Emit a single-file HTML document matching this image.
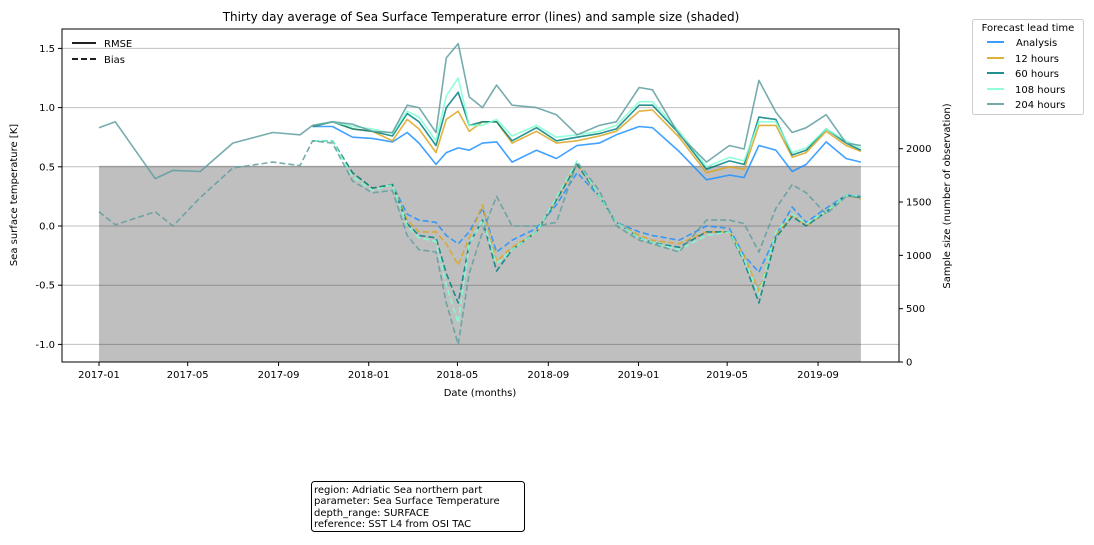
<!DOCTYPE html>
<html><head><meta charset="utf-8"><style>
body{margin:0;background:#fff;width:1094px;height:540px;overflow:hidden;font-family:"Liberation Sans","DejaVu Sans",sans-serif}
svg text{font-family:"DejaVu Sans","Liberation Sans",sans-serif}
</style></head><body>
<svg id="chart" width="1094" height="540" xmlns="http://www.w3.org/2000/svg"></svg>
<script>
const gridDates=["2017-10-17","2017-11-13","2017-12-10","2018-01-06","2018-02-02","2018-02-22","2018-03-10","2018-04-02","2018-04-16","2018-05-02","2018-05-17","2018-06-04","2018-06-23","2018-07-14","2018-08-16","2018-09-12","2018-10-10","2018-11-09","2018-12-02","2019-01-02","2019-01-20","2019-02-25","2019-04-03","2019-05-04","2019-05-24","2019-06-13","2019-07-06","2019-07-28","2019-08-16","2019-09-12","2019-10-09","2019-10-29"];
const preDates=["2017-01-01","2017-01-23","2017-03-18","2017-04-11","2017-05-18","2017-07-01","2017-08-24","2017-09-30"];
const rmseAnalysis=[0.84,0.84,0.75,0.74,0.71,0.79,0.70,0.52,0.62,0.66,0.64,0.70,0.71,0.54,0.64,0.57,0.68,0.70,0.77,0.84,0.83,0.63,0.39,0.43,0.41,0.68,0.64,0.46,0.52,0.71,0.57,0.54];
const rmse12=[0.84,0.88,0.82,0.80,0.72,0.90,0.82,0.62,0.90,0.97,0.80,0.88,0.88,0.70,0.80,0.70,0.72,0.76,0.80,0.97,0.98,0.75,0.45,0.50,0.48,0.85,0.85,0.58,0.62,0.80,0.68,0.63];
const rmse60=[0.84,0.88,0.82,0.80,0.76,0.95,0.88,0.68,1.00,1.13,0.85,0.88,0.88,0.72,0.83,0.72,0.75,0.78,0.82,1.02,1.02,0.78,0.48,0.55,0.52,0.92,0.90,0.60,0.64,0.82,0.70,0.64];
const rmse108=[0.85,0.88,0.84,0.82,0.78,0.97,0.92,0.72,1.10,1.25,0.85,0.85,0.90,0.76,0.85,0.75,0.77,0.80,0.85,1.05,1.05,0.80,0.50,0.58,0.55,0.88,0.88,0.62,0.66,0.82,0.72,0.66];
const rmse204Pre=[0.83,0.88,0.40,0.47,0.46,0.70,0.79,0.77];
const rmse204=[0.85,0.88,0.86,0.80,0.79,1.02,1.00,0.79,1.42,1.54,1.09,1.00,1.19,1.02,1.00,0.94,0.77,0.85,0.88,1.17,1.15,0.77,0.54,0.68,0.65,1.23,0.96,0.79,0.83,0.94,0.70,0.68];
const biasAnalysis=[0.72,0.72,0.45,0.32,0.35,0.10,0.05,0.03,-0.08,-0.15,-0.05,0.15,-0.22,-0.12,-0.02,0.18,0.45,0.25,0.03,-0.05,-0.08,-0.12,0.0,-0.02,-0.25,-0.39,-0.08,0.16,0.03,0.15,0.26,0.25];
const bias12=[0.72,0.72,0.45,0.32,0.35,0.05,-0.05,-0.05,-0.15,-0.33,-0.10,0.18,-0.30,-0.18,-0.05,0.22,0.52,0.25,0.03,-0.08,-0.12,-0.15,-0.05,-0.05,-0.25,-0.55,-0.08,0.10,0.0,0.12,0.26,0.23];
const bias60=[0.72,0.72,0.45,0.32,0.35,0.02,-0.08,-0.10,-0.40,-0.65,-0.15,0.05,-0.38,-0.20,-0.05,0.22,0.52,0.25,0.03,-0.10,-0.14,-0.18,-0.05,-0.05,-0.30,-0.65,-0.10,0.08,0.0,0.12,0.26,0.24];
const bias108=[0.72,0.72,0.42,0.30,0.35,0.0,-0.10,-0.13,-0.50,-0.82,-0.15,0.05,-0.32,-0.20,-0.05,0.24,0.55,0.25,0.03,-0.10,-0.14,-0.20,-0.08,-0.05,-0.28,-0.58,-0.05,0.10,0.02,0.12,0.26,0.25];
const bias204Pre=[0.12,0.01,0.12,0.0,0.24,0.49,0.54,0.51];
const bias204=[0.72,0.70,0.38,0.28,0.30,-0.08,-0.20,-0.22,-0.65,-1.00,-0.40,-0.05,0.25,0.0,0.0,0.03,0.54,0.30,0.0,-0.12,-0.15,-0.22,0.05,0.05,0.02,-0.22,0.15,0.35,0.28,0.10,0.25,0.25];
const sampleDates=["2017-01-01","2019-10-29"];
const sampleSize=[1840,1840];
const yTicks=[-1.0,-0.5,0.0,0.5,1.0,1.5];
const y2Ticks=[0,500,1000,1500,2000];
const xTickLabels=["2017-01","2017-05","2017-09","2018-01","2018-05","2018-09","2019-01","2019-05","2019-09"];

const svg=document.getElementById('chart');const NS="http://www.w3.org/2000/svg";
function mk(t,a,p){const e=document.createElementNS(NS,t);for(const k in a)e.setAttribute(k,a[k]);(p||svg).appendChild(e);return e;}
const L=62,R=899,T=29,B=362;
const d0=Date.UTC(2017,0,1);
function day(s){const p=s.split('-').map(Number);return (Date.UTC(p[0],p[1]-1,p[2]||1)-d0)/86400000;}
function X(s){return 99+day(s)*0.739;}
function Y(v){return 226-v*118.4;}
function Y2(v){return 362-v*0.10664;}
// shaded sample size
const sh=mk('rect',{x:X(sampleDates[0]),y:Y2(sampleSize[0]),width:X(sampleDates[1])-X(sampleDates[0]),height:Y2(0)-Y2(sampleSize[0]),fill:'#bfbfbf'});


// grid
yTicks.forEach(v=>{const g=mk('line',{x1:L,x2:R,y1:Y(v),y2:Y(v),stroke:'rgba(0,0,0,0.25)','stroke-width':1});


const tk=mk('line',{x1:L-4,x2:L,y1:Y(v),y2:Y(v),stroke:'#000'});
const t=mk('text',{x:L-7,y:Y(v)+3.5,'text-anchor':'end','font-size':10});t.textContent=v.toFixed(1);

});
y2Ticks.forEach(v=>{mk('line',{x1:R,x2:R+4,y1:Y2(v),y2:Y2(v),stroke:'#000'});
const t=mk('text',{x:R+7,y:Y2(v)+3.5,'font-size':10});t.textContent=v;

});
xTickLabels.forEach(s=>{const x=X(s+"-01");mk('line',{x1:x,x2:x,y1:B,y2:B+4,stroke:'#000'});
const t=mk('text',{x:x,y:B+16,'text-anchor':'middle','font-size':10});t.textContent=s;

});
function series(dates,vals,color,dash,name){
 const pts=vals.map((v,i)=>X(dates[i]).toFixed(1)+','+Y(v).toFixed(1)).join(' ');
 const p=mk('polyline',{points:pts,fill:'none',stroke:color,'stroke-width':1.6,'stroke-opacity':0.85,'stroke-dasharray':dash?'6,3':'none','stroke-linejoin':'round'});
 
 
}
const C={a:'#1e90ff',h12:'#daa520',h60:'#008080',h108:'#7fffd4',h204:'#5f9ea0'};
const d204=preDates.concat(gridDates);
series(gridDates,biasAnalysis,C.a,1,'bias-analysis');
series(gridDates,bias12,C.h12,1,'bias-12h');
series(gridDates,bias60,C.h60,1,'bias-60h');
series(gridDates,bias108,C.h108,1,'bias-108h');
series(d204,bias204Pre.concat(bias204),C.h204,1,'bias-204h');
series(gridDates,rmseAnalysis,C.a,0,'rmse-analysis');
series(gridDates,rmse12,C.h12,0,'rmse-12h');
series(gridDates,rmse60,C.h60,0,'rmse-60h');
series(gridDates,rmse108,C.h108,0,'rmse-108h');
series(d204,rmse204Pre.concat(rmse204),C.h204,0,'rmse-204h');
mk('rect',{x:L,y:T,width:R-L,height:B-T,fill:'none',stroke:'#000','stroke-width':1});
</script>
<svg style="position:absolute;left:0;top:0" width="1094" height="540" xmlns="http://www.w3.org/2000/svg" font-size="10">
<text x="481" y="21" text-anchor="middle" font-size="12">Thirty day average of Sea Surface Temperature error (lines) and sample size (shaded)</text>
<text x="480" y="396" text-anchor="middle">Date (months)</text>
<text transform="translate(17,195) rotate(-90)" text-anchor="middle">Sea surface temperature [K]</text>
<text transform="translate(950,196) rotate(-90)" text-anchor="middle">Sample size (number of observation)</text>
<g>
<line x1="72" x2="96" y1="43" y2="43" stroke="#000" stroke-width="1.8"/><text x="104" y="47">RMSE</text>
<line x1="72" x2="96" y1="59" y2="59" stroke="#000" stroke-width="1.8" stroke-dasharray="6,3"/><text x="104" y="63">Bias</text>
</g>
<g>
<rect x="972.5" y="19.5" width="111" height="95" rx="2" fill="#fff" stroke="#ccc"/>
<text x="1028" y="31" text-anchor="middle">Forecast lead time</text>
<line x1="987" x2="1004" y1="42" y2="42" stroke="#1e90ff" stroke-width="1.8"/><text x="1016" y="46">Analysis</text>
<line x1="987" x2="1004" y1="58" y2="58" stroke="#daa520" stroke-width="1.8"/><text x="1015" y="62">12 hours</text>
<line x1="987" x2="1004" y1="73" y2="73" stroke="#008080" stroke-width="1.8"/><text x="1015" y="77">60 hours</text>
<line x1="987" x2="1004" y1="89" y2="89" stroke="#7fffd4" stroke-width="1.8"/><text x="1015" y="93">108 hours</text>
<line x1="987" x2="1004" y1="104" y2="104" stroke="#5f9ea0" stroke-width="1.8"/><text x="1015" y="108">204 hours</text>
</g>
<g>
<rect x="311.5" y="481.5" width="213" height="50" rx="3" fill="#fff" stroke="#000"/>
<text x="314" y="493">region: Adriatic Sea northern part</text>
<text x="314" y="504">parameter: Sea Surface Temperature</text>
<text x="314" y="516">depth_range: SURFACE</text>
<text x="314" y="527">reference: SST L4 from OSI TAC</text>
</g>
</svg>
</body></html>
